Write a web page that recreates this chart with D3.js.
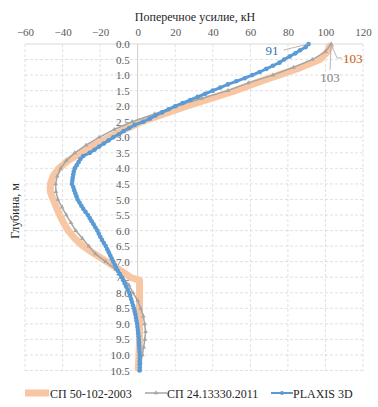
<!DOCTYPE html>
<html><head><meta charset="utf-8">
<script src="https://cdn.jsdelivr.net/npm/d3@7"></script>
<style>html,body{margin:0;padding:0;background:#fff;}svg{display:block;}svg text{font-family:"Liberation Serif","Times New Roman",serif !important;}</style>
</head><body>
<svg id="c" width="378" height="407"></svg>
<script>
// ---- data ----
const xTicks = [-60,-40,-20,0,20,40,60,80,100,120];
const yTicks = [0,0.5,1,1.5,2,2.5,3,3.5,4,4.5,5,5.5,6,6.5,7,7.5,8,8.5,9,9.5,10,10.5];
const seriesNames = ["СП 50-102-2003","СП 24.13330.2011","PLAXIS 3D"];

const sp50Depth = [0,0.25,0.5,0.75,1,1.25,1.5,1.75,2,2.25,2.5,2.75,3,3.25,3.5,3.75,4,4.25,4.5,4.75,5,5.25,5.5,5.75,6,6.25,6.5,6.75,7,7.25,7.5,7.6,8,8.5,9,9.5,10,10.5];
const sp50Force = [103,101,97,87,75,63,52,39,26,14,2,-7,-15,-23,-30,-37,-42,-45,-46.5,-46.5,-45,-43.3,-41.5,-39.5,-37,-33.5,-29,-23,-16.5,-10,-4,1,1,1,1,1,0.7,0.3];

const sp24Depth = [0,0.25,0.5,0.75,1,1.25,1.5,1.75,2,2.25,2.5,2.75,3,3.25,3.5,3.75,4,4.25,4.5,4.75,5,5.25,5.5,5.75,6,6.25,6.5,6.75,7,7.25,7.5,7.75,8,8.25,8.5,8.75,9,9.25,9.5,9.75,10,10.25,10.5];
const sp24Force = [103,100,93,83,72,59,48,34,20,9,-3,-12.5,-20.5,-27.5,-33.5,-38,-41,-42.8,-43.7,-43.5,-42.5,-40.3,-38,-35.5,-33,-29.5,-26,-22.5,-17,-11.7,-8,-4.7,-2.5,0,1.6,3,3.7,4.2,3.8,3.2,2.5,1.5,0.7];

const plaxisDepth = [0,0.1,0.2,0.3,0.4,0.5,0.6,0.7,0.8,0.9,1,1.1,1.2,1.3,1.4,1.5,1.6,1.7,1.8,1.9,2,2.1,2.2,2.3,2.4,2.5,2.6,2.7,2.8,2.9,3,3.1,3.2,3.3,3.4,3.5,3.6,3.7,3.8,3.9,4,4.1,4.2,4.3,4.4,4.5,4.6,4.7,4.8,4.9,5,5.1,5.2,5.3,5.4,5.5,5.6,5.7,5.8,5.9,6,6.1,6.2,6.3,6.4,6.5,6.6,6.7,6.8,6.9,7,7.1,7.2,7.3,7.4,7.5,7.6,7.7,7.8,7.9,8,8.1,8.2,8.3,8.4,8.5,8.6,8.7,8.8,8.9,9,9.1,9.2,9.3,9.4,9.5,9.6,9.7,9.8,9.9,10,10.1,10.2,10.3,10.4,10.5];
const plaxisForce = [91,89.5,86.5,84,81,78,75.5,72,68.5,65,61,57,52.5,48,44,40,36,32,28,24,20,16.5,13,9.5,6.5,3,-1.5,-4.5,-7.5,-10,-13,-15.5,-18,-20.5,-23,-25.5,-29,-30.5,-31.5,-32.5,-33.5,-34,-34.3,-34.6,-34.8,-35,-34.3,-33.8,-33.2,-32.6,-32,-31,-30,-29,-27.8,-26.5,-25.5,-24.5,-23.5,-22.5,-21.5,-20.7,-19.9,-19,-18,-17,-16.2,-15.4,-14.6,-13.8,-13,-12.2,-11.4,-10.5,-9.5,-8.5,-7.7,-6.9,-6.1,-5.3,-4.5,-4,-3.5,-3,-2.5,-2,-1.6,-1.2,-0.9,-0.6,-0.3,-0.1,0.1,0.3,0.5,0.6,0.7,0.8,0.9,1,1.1,1.1,1.1,1.1,1.1,1.1];

const labelTexts = ["103","103","91"];

// ---- chart ----
const SERIF = '"Liberation Serif","Times New Roman",serif';
const svg = d3.select("#c");
const x = d3.scaleLinear().domain([-60,120]).range([25,363]);
const y = d3.scaleLinear().domain([0,10.5]).range([44,370.5]);

// grid
const g = svg.append("g");
g.selectAll(".vg").data(xTicks.filter(t=>t!==0)).join("line")
  .attr("x1",d=>x(d)).attr("x2",d=>x(d)).attr("y1",y(0)).attr("y2",y(10.5))
  .attr("stroke","#d9d9d9").attr("stroke-width",0.8).attr("stroke-dasharray","3,2");
g.selectAll(".hg").data(yTicks.filter(t=>t!==0)).join("line")
  .attr("x1",x(-60)).attr("x2",x(120)).attr("y1",d=>y(d)).attr("y2",d=>y(d))
  .attr("stroke","#d9d9d9").attr("stroke-width",0.8).attr("stroke-dasharray","3,2");
g.append("line").attr("x1",x(-60)).attr("x2",x(120)).attr("y1",y(0)).attr("y2",y(0)).attr("stroke","#d9d9d9").attr("stroke-width",1);
g.append("line").attr("x1",x(0)).attr("x2",x(0)).attr("y1",y(0)).attr("y2",y(10.5)).attr("stroke","#d0d0d0").attr("stroke-width",1);

// x axis (top)
const xa = svg.append("g").attr("transform",`translate(0,${y(0)-8})`)
  .call(d3.axisTop(x).tickValues(xTicks).tickSize(0).tickPadding(0).tickFormat(d3.format("d")));
xa.attr("font-family",null);
xa.select(".domain").remove();
xa.selectAll("text").attr("fill","#595959").style("font-size","11px").style("font-family",SERIF);

// y axis at x=0
const ya = svg.append("g").attr("transform",`translate(${x(0)-8},0)`)
  .call(d3.axisLeft(y).tickValues(yTicks).tickSize(0).tickPadding(0).tickFormat(d3.format(".1f")));
ya.attr("font-family",null);
ya.select(".domain").remove();
ya.selectAll("text").attr("fill","#595959").style("font-size","11px").style("font-family",SERIF);

// titles
svg.append("text").attr("x",195).attr("y",21).attr("text-anchor","middle").style("font-size","12px").style("font-family",SERIF).attr("fill","#262626").text("Поперечное усилие, кН");
svg.append("text").attr("transform","translate(19,211) rotate(-90)").attr("text-anchor","middle").style("font-size","12px").style("font-family",SERIF).attr("fill","#262626").text("Глубина, м");

const line = d3.line().x(d=>x(d[1])).y(d=>y(d[0]));
const sp50 = sp50Depth.map((d,i)=>[d,sp50Force[i]]);
const sp24 = sp24Depth.map((d,i)=>[d,sp24Force[i]]);
const plx = plaxisDepth.map((d,i)=>[d,plaxisForce[i]]);

const cPeach = "#f8c6a2", cGray = "#a5a5a5", cBlue = "#5b9bd5";

svg.append("path").datum(sp50).attr("d",line).attr("fill","none").attr("stroke",cPeach).attr("stroke-width",7).attr("stroke-linejoin","round");
svg.append("path").datum(sp24).attr("d",line).attr("fill","none").attr("stroke",cGray).attr("stroke-width",1.5);
const tri = d3.symbol().type(d3.symbolTriangle).size(9);
svg.selectAll(".tm").data(sp24).join("path").attr("d",tri).attr("transform",d=>`translate(${x(d[1])},${y(d[0])})`).attr("fill",cGray);
svg.append("path").datum(plx).attr("d",line).attr("fill","none").attr("stroke",cBlue).attr("stroke-width",3);
svg.selectAll(".bm").data(plx).join("circle").attr("cx",d=>x(d[1])).attr("cy",d=>y(d[0])).attr("r",2.3).attr("fill",cBlue);

// data labels with leader lines
const lead = svg.append("g").attr("stroke","#a6a6a6").attr("stroke-width",0.8).attr("fill","none");
lead.append("path").attr("d",`M${x(sp50Force[0])},${y(0)} L${x(sp50Force[0])+6},${y(0)+14} L${x(sp50Force[0])+11},${y(0)+14}`);
lead.append("path").attr("d",`M${x(sp24Force[0])},${y(0)} L${x(sp24Force[0])-1},${y(0)+26}`);
lead.append("path").attr("d",`M${x(plaxisForce[0])},${y(0)} L${x(plaxisForce[0])-25},${y(0)+6}`);
svg.append("text").attr("x",x(sp50Force[0])+12).attr("y",y(0)+19).style("font-size","13px").style("font-family",SERIF).attr("fill","#c55a11").text(labelTexts[0]);
svg.append("text").attr("x",x(sp24Force[0])-1).attr("y",y(0)+38).attr("text-anchor","middle").style("font-size","13px").style("font-family",SERIF).attr("fill","#7f7f7f").text(labelTexts[1]);
svg.append("text").attr("x",x(plaxisForce[0])-30).attr("y",y(0)+11).attr("text-anchor","end").style("font-size","13px").style("font-family",SERIF).attr("fill","#2e75b6").text(labelTexts[2]);

// legend
const lg = svg.append("g").attr("transform","translate(0,393)");
const items = [
  {x0:25,x1:49,tx:50,c:cPeach,w:7,m:null},
  {x0:145,x1:167,tx:167,c:cGray,w:1.5,m:"tri"},
  {x0:271,x1:293,tx:293,c:cBlue,w:2,m:"dot"}
];
items.forEach((it,i)=>{
  lg.append("line").attr("x1",it.x0).attr("x2",it.x1).attr("y1",0).attr("y2",0).attr("stroke",it.c).attr("stroke-width",it.w);
  const mx=(it.x0+it.x1)/2;
  if(it.m==="tri") lg.append("path").attr("d",tri).attr("transform",`translate(${mx},0)`).attr("fill",it.c);
  if(it.m==="dot") lg.append("circle").attr("cx",mx).attr("cy",0).attr("r",2).attr("fill",it.c);
  lg.append("text").attr("x",it.tx).attr("y",4.5).style("font-size","12px").style("font-family",SERIF).attr("fill","#262626").text(seriesNames[i]);
});
</script>
</body></html>
